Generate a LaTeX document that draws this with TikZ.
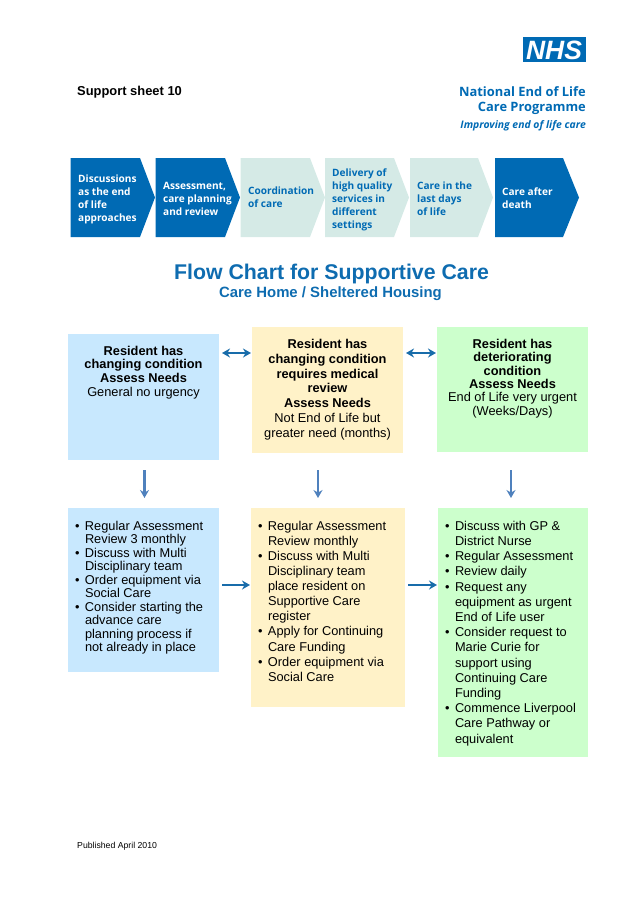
\documentclass[tikz,border=0pt]{standalone}
\usepackage{fontspec}
\setmainfont{Liberation Sans}
\newfontfamily\chevfont{Open Sans}
\usetikzlibrary{arrows.meta}
\definecolor{nhsBlue}{RGB}{0,106,180}
\definecolor{paleTeal}{RGB}{213,234,230}
\definecolor{titleBlue}{RGB}{14,108,176}
\definecolor{cellBlue}{RGB}{200,232,254}
\definecolor{cellYellow}{RGB}{255,242,200}
\definecolor{cellGreen}{RGB}{204,255,204}
\definecolor{sideArrow}{RGB}{24,108,170}
\definecolor{downArrow}{RGB}{79,129,189}
\tikzset{
  cell/.style={anchor=north west,inner sep=0pt,outer sep=0pt},
  chevText/.style={anchor=west,inner sep=0pt,align=left,font=\chevfont\bfseries\fontsize{10.1}{13}\selectfont},
  sideLink/.style={draw=sideArrow,line width=2.2pt,shorten >=1pt,shorten <=3pt,-{Stealth[length=8pt,width=9pt]}},
  bothLink/.style={sideLink,{Stealth[length=8pt,width=9pt]}-{Stealth[length=8pt,width=9pt]}},
  downLink/.style={draw=downArrow,line width=2.2pt,shorten >=10pt,-{Stealth[length=8pt,width=9pt]}},
}
\newcommand\Cell[5]{\parbox[t][#2pt][t]{#1pt}{\fontsize{12.8}{#3}\selectfont\vspace*{#4pt}#5}}
\newcommand\Bul{\makebox[10pt][l]{\textbullet}}
\newcommand\Ind{\hspace*{10pt}}
\newcommand\Chevron[3]{(#1,158) -- (#2,158) -- (#3,197.5) -- (#2,237) -- (#1,237) -- cycle}
\begin{document}
\begin{tikzpicture}[x=1pt,y=-1pt]
\useasboundingbox (0,0) rectangle (638,903);

% header
\node [anchor=west,inner sep=0pt,font=\bfseries\fontsize{12.9}{14}\selectfont] (sheet) at (77,92.5) {Support sheet 10};
\fill [nhsBlue] (523,37) rectangle (586,62);
\node [inner sep=0pt,text=white,font=\bfseries\itshape\fontsize{26.5}{26}\selectfont] (nhs) at (554,50) {NHS};
\node [anchor=east,inner sep=0pt,text=nhsBlue,align=right,font=\chevfont\bfseries\fontsize{12.9}{15}\selectfont] (programme) at (586,100.5) {National End of Life\\Care Programme};
\node [anchor=east,inner sep=0pt,text=nhsBlue,font=\chevfont\bfseries\itshape\fontsize{10.4}{12}\selectfont] (improving) at (586,126) {Improving end of life care};

% chevrons
\fill [nhsBlue] \Chevron{70.5}{140}{155};
\fill [nhsBlue] \Chevron{155.7}{225}{240};
\fill [paleTeal] \Chevron{240.7}{310}{325};
\fill [paleTeal] \Chevron{325}{394}{409};
\fill [paleTeal] \Chevron{410}{478}{493};
\fill [nhsBlue] \Chevron{495}{563}{579};
\node [chevText,text=white] (chevA) at (78,199) {Discussions\\as the end\\of life\\approaches};
\node [chevText,text=white] (chevB) at (163,198.5) {Assessment,\\care planning\\and review};
\node [chevText,text=nhsBlue] (chevC) at (248,197.5) {Coordination\\of care};
\node [chevText,text=nhsBlue] (chevD) at (332,199.5) {Delivery of\\high quality\\services in\\different\\settings};
\node [chevText,text=nhsBlue] (chevE) at (417,198.5) {Care in the\\last days\\of life};
\node [chevText,text=white] (chevF) at (502,198.5) {Care after\\death};

% titles
\node [inner sep=0pt,text=titleBlue,font=\bfseries\fontsize{21.3}{24}\selectfont] (title) at (331.5,274) {Flow Chart for Supportive Care};
\node [inner sep=0pt,text=titleBlue,font=\bfseries\fontsize{14.9}{16}\selectfont] (subtitle) at (330.5,294) {Care Home / Sheltered Housing};

% top row
\node [cell,fill=cellBlue] (blueTop) at (68,334) {\Cell{151}{126}{13.7}{12}{\centering
  \textbf{Resident has\\changing condition\\Assess Needs}\\General no urgency}};
\node [cell,fill=cellYellow] (yellowTop) at (252,327) {\Cell{151}{126}{14.9}{12}{\centering
  \textbf{Resident has\\changing condition\\requires medical\\review\\Assess Needs}\\Not End of Life but\\greater need (months)}};
\node [cell,fill=cellGreen] (greenTop) at (437,327) {\Cell{151}{125}{13.4}{12}{\centering
  \textbf{Resident has\\deteriorating\\condition\\Assess Needs}\\End of Life very urgent\\(Weeks/Days)}};

% bottom row
\node [cell,fill=cellBlue] (blueLow) at (68,508) {\Cell{151}{164}{13.5}{13}{\raggedright\leftskip=7pt
  \Bul Regular Assessment\\\Ind Review 3 monthly\\\Bul Discuss with Multi\\\Ind Disciplinary team\\\Bul Order equipment via\\\Ind Social Care\\\Bul Consider starting the\\\Ind advance care\\\Ind planning process if\\\Ind not already in place}};
\node [cell,fill=cellYellow] (yellowLow) at (251,508) {\Cell{154}{199}{15.1}{13}{\raggedright\leftskip=7pt
  \Bul Regular Assessment\\\Ind Review monthly\\\Bul Discuss with Multi\\\Ind Disciplinary team\\\Ind place resident on\\\Ind Supportive Care\\\Ind register\\\Bul Apply for Continuing\\\Ind Care Funding\\\Bul Order equipment via\\\Ind Social Care}};
\node [cell,fill=cellGreen] (greenLow) at (438,508) {\Cell{150}{249}{15.2}{13}{\raggedright\leftskip=7pt
  \Bul Discuss with GP \&\\\Ind District Nurse\\\Bul Regular Assessment\\\Bul Review daily\\\Bul Request any\\\Ind equipment as urgent\\\Ind End of Life user\\\Bul Consider request to\\\Ind Marie Curie for\\\Ind support using\\\Ind Continuing Care\\\Ind Funding\\\Bul Commence Liverpool\\\Ind Care Pathway or\\\Ind equivalent}};

% connectors
\coordinate (rowUp) at (0,353);
\coordinate (rowLow) at (0,585);
\draw [bothLink] (blueTop.east |- rowUp) -- (yellowTop.west |- rowUp);
\draw [bothLink] (yellowTop.east |- rowUp) -- (greenTop.west |- rowUp);
\draw [sideLink] (blueLow.east |- rowLow) -- (yellowLow.west |- rowLow);
\draw [sideLink] (yellowLow.east |- rowLow) -- (greenLow.west |- rowLow);
\draw [downLink,shorten <=10pt] ([xshift=1pt]blueTop.south) -- ([xshift=1pt]blueLow.north);
\draw [downLink,shorten <=17pt] ([xshift=-9.5pt]yellowTop.south) -- ([xshift=-9.5pt]yellowLow.north -| yellowTop.south);
\draw [downLink,shorten <=18pt] ([xshift=-1.5pt]greenTop.south) -- ([xshift=-1.5pt]greenLow.north -| greenTop.south);

% footer
\node [anchor=west,inner sep=0pt,font=\fontsize{8.7}{11}\selectfont] (published) at (77,846) {Published April 2010};
\end{tikzpicture}
\end{document}
